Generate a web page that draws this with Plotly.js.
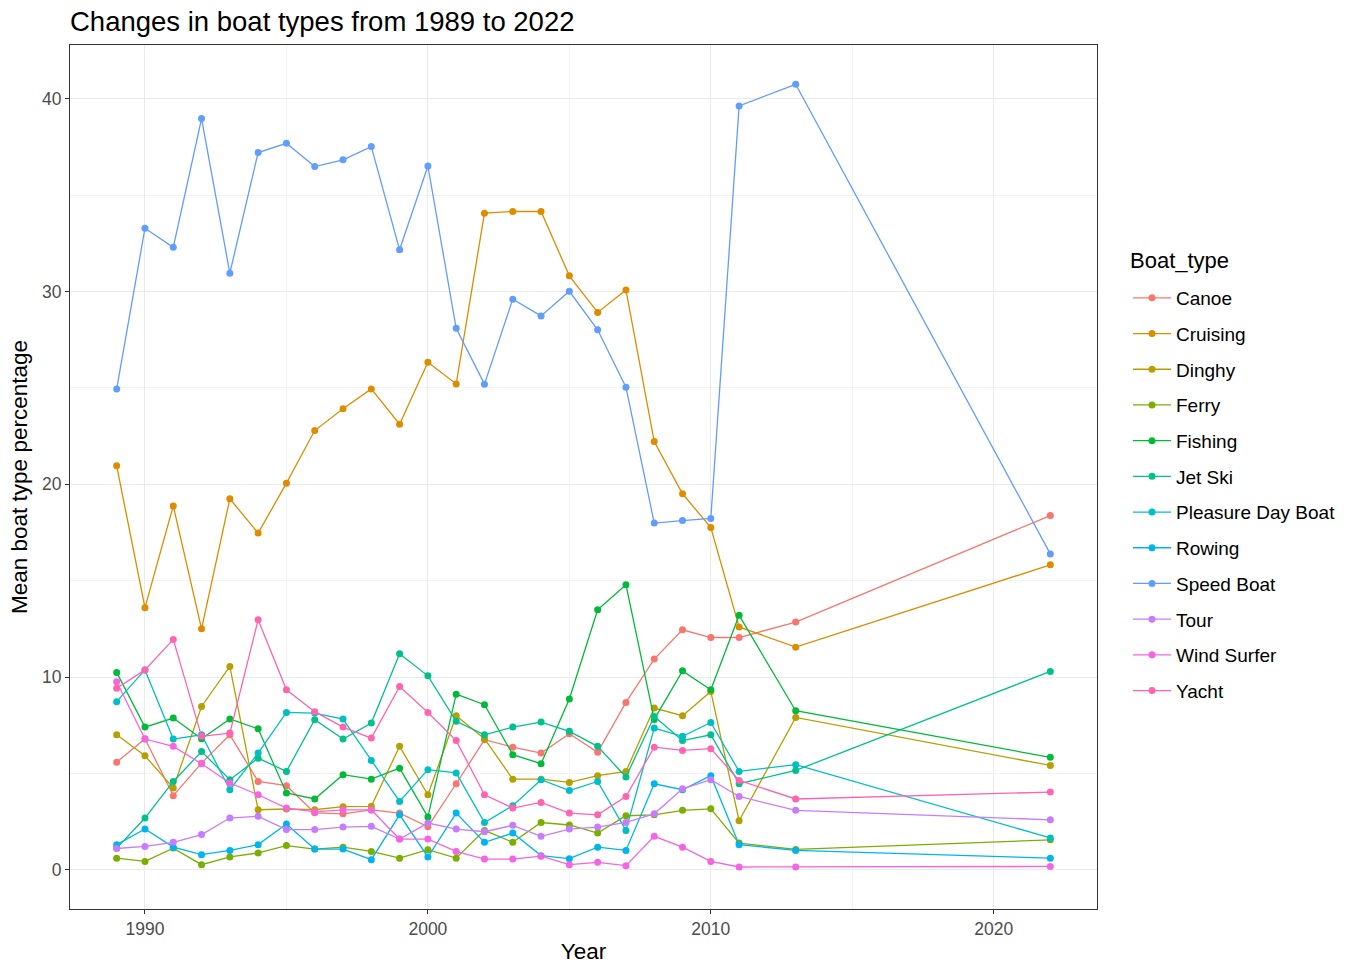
<!DOCTYPE html>
<html>
<head>
<meta charset="utf-8">
<script src="https://cdn.plot.ly/plotly-3.0.1.min.js"></script>
<style>
html,body{margin:0;padding:0;background:#fff;}
#chart{width:1351px;height:964px;}
</style>
</head>
<body>
<div id="chart"></div>
<script>
const years = [1989,1990,1991,1992,1993,1994,1995,1996,1997,1998,1999,2000,2001,2002,2003,2004,2005,2006,2007,2008,2009,2010,2011,2013,2022];

const canoe      = [5.57,6.8,3.84,5.53,7.0,4.58,4.36,2.95,2.9,3.1,2.94,2.23,4.46,6.75,6.36,6.05,7.06,6.09,8.68,10.93,12.45,12.05,12.05,12.85,18.38];
const cruising   = [20.96,13.6,18.88,12.5,19.25,17.47,20.06,22.79,23.92,24.95,23.12,26.34,25.21,34.07,34.16,34.16,30.82,28.92,30.09,22.22,19.51,17.76,12.6,11.55,15.82];
const dinghy     = [7.0,5.91,4.24,8.47,10.55,3.11,3.15,3.11,3.27,3.29,6.4,3.89,7.99,6.8,4.7,4.7,4.53,4.88,5.1,8.39,7.99,9.25,2.54,7.9,5.41];
const ferry      = [0.6,0.43,1.12,0.26,0.66,0.87,1.25,1.07,1.17,0.95,0.6,1.04,0.6,2.04,1.42,2.45,2.32,1.9,2.8,2.85,3.08,3.16,1.38,1.05,1.55];
const fishing    = [10.24,7.4,7.87,6.8,7.82,7.31,3.98,3.67,4.93,4.7,5.27,2.74,9.11,8.56,5.97,5.5,8.86,13.49,14.79,7.8,10.32,9.34,13.2,8.25,5.83];
const jetSki     = [1.12,2.68,4.58,6.13,4.67,5.79,5.1,7.78,6.78,7.61,11.21,10.06,7.7,7.0,7.4,7.66,7.18,6.4,4.81,7.95,6.7,7.0,4.46,5.15,10.29];
const pleasure   = [8.72,10.37,6.78,7.0,4.15,6.05,8.16,8.13,7.82,5.67,3.54,5.19,5.02,2.45,3.32,4.67,4.11,4.58,2.04,7.35,6.92,7.64,5.1,5.45,1.65];
const rowing     = [1.3,2.11,1.17,0.78,1.0,1.3,2.37,1.07,1.07,0.52,2.85,0.66,2.94,1.42,1.9,0.73,0.57,1.17,1.0,4.46,4.15,4.88,1.3,1.0,0.6];
const speedBoat  = [24.95,33.29,32.3,38.98,30.96,37.22,37.7,36.49,36.84,37.53,32.17,36.52,28.1,25.2,29.61,28.74,30.02,28.02,25.04,17.99,18.12,18.23,39.64,40.76,16.39];
const tour       = [1.1,1.21,1.42,1.82,2.68,2.77,2.08,2.08,2.21,2.25,1.59,2.42,2.11,1.97,2.3,1.73,2.11,2.21,2.45,2.9,4.2,4.67,3.8,3.08,2.59];
const windSurfer = [9.75,6.78,6.4,5.5,4.5,3.89,3.2,3.0,3.1,3.1,1.59,1.59,0.95,0.55,0.55,0.7,0.26,0.38,0.21,1.73,1.17,0.43,0.14,0.14,0.17];
const yacht      = [9.42,10.37,11.95,6.92,7.09,12.97,9.34,8.2,7.4,6.83,9.51,8.16,6.7,3.89,3.2,3.49,2.94,2.85,3.8,6.36,6.19,6.28,4.63,3.67,4.03];

const boatTypes = ["Canoe","Cruising","Dinghy","Ferry","Fishing","Jet Ski","Pleasure Day Boat","Rowing","Speed Boat","Tour","Wind Surfer","Yacht"];
const seriesList = [canoe,cruising,dinghy,ferry,fishing,jetSki,pleasure,rowing,speedBoat,tour,windSurfer,yacht];
const colors = ["#F8766D","#DE8C00","#B79F00","#7CAE00","#00BA38","#00C08B","#00BFC4","#00B4F0","#619CFF","#C77CFF","#F564E3","#FF64B0"];

const traces = boatTypes.map((name,i)=>({
  type:'scatter', mode:'lines+markers', name:name, legendgroup:name,
  x:years, y:seriesList[i],
  line:{color:colors[i], width:1.3},
  marker:{color:colors[i], size:7}
}));

const font = "Liberation Sans, Arial, sans-serif";
const W = 1351, H = 964, ML = 70, MR = 254, MT = 45, MB = 55;
const plotH = H - MT - MB;
const layout = {
  width:W, height:H,
  margin:{l:ML, r:MR, t:MT, b:MB, autoexpand:false},
  paper_bgcolor:'#fff', plot_bgcolor:'#fff',
  font:{family:font, color:'#000'},
  title:{text:'Changes in boat types from 1989 to 2022', x:ML/W, xanchor:'left', xref:'container', y:1-21/H, yanchor:'middle', yref:'container', font:{size:27.5, color:'#000', family:font}},
  xaxis:{
    range:[1987.35, 2023.65], tick0:1990, dtick:10, showgrid:true, gridcolor:'#EBEBEB', gridwidth:1,
    minor:{tick0:1995, dtick:5, showgrid:true, gridcolor:'#F3F3F3', gridwidth:1, ticks:''},
    zeroline:false, showline:true, mirror:true, linecolor:'#333333', linewidth:1,
    ticks:'outside', ticklen:4, tickcolor:'#333333', tickfont:{size:17.5, color:'#4D4D4D'},
    title:{text:'Year', font:{size:22.5, color:'#000'}, standoff:8}
  },
  yaxis:{
    range:[-2.04, 42.8], tick0:0, dtick:10, showgrid:true, gridcolor:'#EBEBEB', gridwidth:1,
    minor:{tick0:5, dtick:5, showgrid:true, gridcolor:'#F3F3F3', gridwidth:1, ticks:''},
    zeroline:false, showline:true, mirror:true, linecolor:'#333333', linewidth:1,
    ticks:'outside', ticklen:4, tickcolor:'#333333', tickfont:{size:17.5, color:'#4D4D4D'},
    title:{text:'Mean boat type percentage', font:{size:22.5, color:'#000'}, standoff:8}
  },
  showlegend:true,
  legend:{
    x:(1128-ML)/(W-ML-MR), xanchor:'left', y:(H-MB-279)/plotH, yanchor:'top',
    font:{size:19, color:'#000'}, tracegroupgap:8, itemwidth:38,
    bgcolor:'rgba(0,0,0,0)'
  },
  annotations:[{
    text:'Boat_type', xref:'paper', yref:'paper', x:(1128-ML)/(W-ML-MR), xanchor:'left',
    y:(H-MB-260)/plotH, yanchor:'middle', showarrow:false, font:{size:22, color:'#000'}
  }]
};

Plotly.newPlot('chart', traces, layout, {displayModeBar:false, staticPlot:true});
</script>
</body>
</html>
